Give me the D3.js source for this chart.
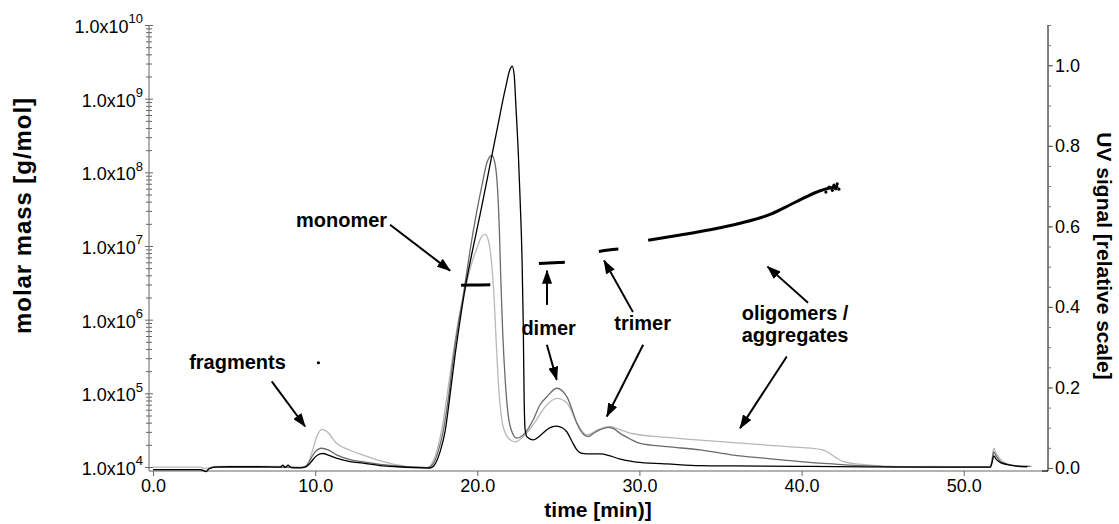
<!DOCTYPE html>
<html>
<head>
<meta charset="utf-8">
<script src="https://cdn.jsdelivr.net/npm/d3@7/dist/d3.min.js"></script>
<style>
  html, body { margin: 0; padding: 0; background: #fff; }
  svg { display: block; font-family: Arial, "Liberation Sans", Helvetica, sans-serif; }
</style>
</head>
<body>
<svg id="chart" width="1119" height="524"></svg>
<script>
// UV traces: [time (min), relative UV signal]
const uvLight = [
  [0,0.002],[2.9,0.002],[3.2,-0.001],[3.52,0.001],[3.82,0.004],[7.83,0.004],[9.07,0.002],
  [9.5,0.007],[9.81,0.04],[10.12,0.08],[10.41,0.096],[10.67,0.092],[11.33,0.061],[12.15,0.044],
  [12.96,0.032],[14.19,0.016],[15.42,0.005],[16.47,0.0],[16.96,0.001],[17.21,0.012],[17.52,0.045],
  [17.83,0.1],[18.14,0.182],[18.45,0.269],[18.82,0.363],[19.25,0.443],[19.68,0.512],[19.99,0.547],
  [20.23,0.572],[20.48,0.58],[20.67,0.567],[20.9,0.501],[21.04,0.418],[21.16,0.318],[21.31,0.206],
  [21.47,0.132],[21.72,0.087],[22.02,0.07],[22.33,0.065],[22.76,0.075],[23.44,0.107],[24.29,0.157],
  [24.9,0.173],[25.52,0.162],[26.14,0.112],[26.75,0.082],[27.45,0.095],[28.19,0.103],[28.81,0.095],
  [29.61,0.085],[31.69,0.076],[33.74,0.069],[35.78,0.063],[37.82,0.057],[39.91,0.051],[41.15,0.046],
  [41.56,0.041],[42.07,0.027],[42.57,0.016],[44.03,0.0075],[46.08,0.003],[48.12,0.004],[51.64,0.0025],
  [51.76,0.025],[51.85,0.049],[52.0,0.037],[52.25,0.022],[52.62,0.011],[53.18,0.006],[54.23,0.004]
];
const uvDark = [
  [0,-0.004],[2.9,-0.004],[3.08,-0.006],[3.27,-0.009],[3.45,-0.002],[3.82,0.002],[7.83,0.002],
  [9.07,0.001],[9.38,0.003],[9.69,0.02],[9.99,0.04],[10.4,0.049],[10.8,0.045],[11.35,0.032],
  [12.15,0.021],[12.96,0.015],[14.0,0.009],[15.05,0.005],[16.16,0.0025],[16.96,0.001],[17.27,0.01],
  [17.58,0.04],[17.89,0.09],[18.2,0.169],[18.51,0.269],[18.82,0.356],[19.19,0.443],[19.56,0.542],
  [19.93,0.629],[20.3,0.704],[20.6,0.759],[20.9,0.776],[21.1,0.754],[21.25,0.692],[21.36,0.592],
  [21.45,0.468],[21.56,0.343],[21.72,0.219],[21.9,0.132],[22.09,0.095],[22.44,0.074],[22.95,0.087],
  [23.44,0.119],[23.87,0.157],[24.29,0.177],[24.9,0.198],[25.52,0.177],[25.85,0.144],[26.14,0.111],
  [26.47,0.087],[26.84,0.078],[27.2,0.087],[27.58,0.095],[28.09,0.101],[28.44,0.097],[28.81,0.086],
  [29.43,0.072],[30.04,0.061],[31.69,0.053],[33.74,0.045],[35.78,0.032],[37.82,0.024],[39.91,0.016],
  [41.95,0.01],[44.03,0.005],[46.08,0.0025],[48.12,0.002],[51.64,0.002],[51.76,0.02],[51.85,0.04],
  [52.0,0.03],[52.25,0.017],[52.62,0.01],[53.18,0.005],[54.1,0.004]
];
const uvBlack = [
  [0,-0.004],[2.9,-0.004],[3.08,-0.006],[3.27,-0.009],[3.45,-0.002],[3.82,0.002],[4.75,0.003],
  [6.42,0.003],[7.83,0.002],[8.02,0.007],[8.14,0.001],[8.33,0.007],[8.51,0.001],[9.07,0.0005],
  [9.38,0.002],[9.69,0.012],[9.99,0.027],[10.3,0.035],[10.49,0.036],[10.8,0.032],[11.35,0.024],
  [12.15,0.016],[12.96,0.012],[14.0,0.006],[15.05,0.003],[16.16,0.001],[17.09,0.0],[17.4,0.01],
  [17.7,0.04],[18.01,0.09],[18.32,0.182],[18.63,0.281],[18.94,0.368],[19.31,0.46],[19.74,0.547],
  [20.17,0.629],[20.79,0.754],[21.22,0.841],[21.72,0.94],[22.02,0.99],[22.15,0.998],[22.27,0.978],
  [22.39,0.891],[22.52,0.791],[22.64,0.667],[22.76,0.517],[22.83,0.368],[22.89,0.169],[22.95,0.095],
  [23.07,0.077],[23.44,0.07],[23.87,0.08],[24.29,0.095],[24.61,0.102],[24.9,0.104],[25.23,0.1],
  [25.52,0.09],[25.85,0.065],[26.14,0.045],[26.4,0.037],[26.75,0.035],[27.14,0.035],[27.58,0.035],
  [28.19,0.03],[28.81,0.022],[29.61,0.016],[30.66,0.012],[31.69,0.01],[33.74,0.006],[35.78,0.005],
  [39.91,0.004],[43.99,0.0025],[48.12,0.002],[51.64,0.002],[51.76,0.015],[51.85,0.03],[52.0,0.022],
  [52.25,0.014],[52.62,0.009],[53.18,0.005],[53.92,0.003]
];

// Molar mass results: [time (min), molar mass (g/mol)]
const massFragments = [[10.2, 2.6e5]];
const massMonomer = [[19.0,2.93e6],[19.6,2.95e6],[20.2,2.96e6],[20.8,2.97e6]];
const massDimer = [[23.8,5.8e6],[24.4,5.9e6],[25.0,5.95e6],[25.4,6.0e6]];
const massTrimer = [[27.5,8.4e6],[28.1,8.8e6],[28.7,9.1e6]];
const massOligomer = [
  [30.54,1.2e7],[32.51,1.41e7],[34.36,1.66e7],[36.21,2.04e7],[38.06,2.69e7],
  [39.3,3.63e7],[40.22,4.57e7],[41.15,5.62e7],[42.26,6.46e7]
];
const massOligomerScatter = [
  [41.5,5.4e7],[41.7,6.3e7],[41.9,5.7e7],[42.0,6.7e7],[42.1,6.0e7],[42.2,7.0e7],[42.3,5.9e7]
];

// Axis ticks
const timeMajor = [0, 10, 20, 30, 40, 50];
const timeMinor = d3.range(0, 56, 2);
const uvMajor = [0, 0.2, 0.4, 0.6, 0.8, 1.0];
const uvMinor = d3.range(0, 1.101, 0.05);
const massExponents = [4, 5, 6, 7, 8, 9, 10];

// Annotation labels and arrows: [time, UV]
const labels = [
  { text: "fragments", t: 5.21, v: 0.245, anchor: "middle" },
  { text: "monomer", t: 14.44, v: 0.598, anchor: "end" },
  { text: "dimer", t: 24.4, v: 0.33, anchor: "middle" },
  { text: "trimer", t: 30.2, v: 0.342, anchor: "middle" },
  { text: "oligomers /", t: 39.6, v: 0.368, anchor: "middle" },
  { text: "aggregates", t: 39.6, v: 0.313, anchor: "middle" }
];
const arrows = [
  { from: [7.32, 0.215], to: [9.38, 0.103] },
  { from: [14.62, 0.604], to: [18.32, 0.49] },
  { from: [24.29, 0.306], to: [24.9, 0.219] },
  { from: [24.3, 0.405], to: [24.3, 0.49] },
  { from: [30.23, 0.306], to: [27.99, 0.128] },
  { from: [29.6, 0.387], to: [27.82, 0.515] },
  { from: [39.09, 0.277], to: [36.21, 0.099] },
  { from: [40.4, 0.41], to: [37.9, 0.5] }
];

const svg = d3.select("#chart");
const plotL = 149, plotR = 1048, plotT = 25, plotB = 471;

const x = d3.scaleLinear().domain([-0.25, 55.2]).range([plotL, plotR]);
const yUV = d3.scaleLinear().domain([-0.0075, 1.1]).range([plotB, plotT]);
const yM = d3.scaleLog().domain([Math.pow(10, 3.9457), 1e10]).range([plotB, plotT]);

const axisGrey = "#666";
const tickFont = "Arial, 'Liberation Sans', sans-serif";

// Bottom axis
const gx = svg.append("g").attr("transform", `translate(0,${plotB})`);
gx.call(d3.axisBottom(x).tickValues(timeMinor).tickSize(4).tickFormat(""));
gx.call(d3.axisBottom(x).tickValues(timeMajor).tickSize(5).tickPadding(3).tickFormat(d3.format(".1f")));
gx.selectAll(".domain").attr("d", `M${plotL},0H${plotR}`).attr("stroke", axisGrey);
gx.selectAll(".tick line").attr("stroke", axisGrey);
gx.selectAll(".tick text").attr("font-size", 18).attr("fill", "#000").attr("font-family", tickFont);

// Left (log) axis
const minorMass = [];
for (let e = 4; e < 10; e++) for (let k = 2; k <= 9; k++) minorMass.push(k * Math.pow(10, e));
const gy = svg.append("g").attr("transform", `translate(${plotL},0)`);
gy.call(d3.axisLeft(yM).tickValues(minorMass).tickSize(3).tickFormat(""));
gy.selectAll(".tick line").attr("x1", 3);
gy.call(g => g.select(".domain").attr("d", `M0,${plotT}V${plotB}`));
const gyMaj = svg.append("g").attr("transform", `translate(${plotL},0)`);
gyMaj.call(d3.axisLeft(yM).tickValues(massExponents.map(e => Math.pow(10, e))).tickSize(4).tickFormat(""));
gyMaj.selectAll(".tick line").attr("x1", 4);
gyMaj.select(".domain").remove();
gy.selectAll("path, line").attr("stroke", axisGrey);
gyMaj.selectAll("line").attr("stroke", axisGrey);
const massLabels = svg.append("g");
massExponents.forEach(e => {
  const t = massLabels.append("text")
    .attr("x", plotL - 6).attr("y", yM(Math.pow(10, e)))
    .attr("dy", "0.45em").attr("text-anchor", "end").attr("font-size", 18);
  t.append("tspan").text("1.0x10");
  t.append("tspan").attr("font-size", 13).attr("dy", "-0.75em").text(e);
});

// Right (UV) axis
const gr = svg.append("g").attr("transform", `translate(${plotR},0)`);
gr.call(d3.axisRight(yUV).tickValues(uvMinor).tickSize(3).tickFormat(""));
gr.selectAll(".tick line").attr("stroke", "#777");
gr.select(".domain").attr("d", `M0,${plotT}V${plotB}H-6`).attr("stroke", "#000");
const grMaj = svg.append("g").attr("transform", `translate(${plotR},0)`);
grMaj.call(d3.axisRight(yUV).tickValues(uvMajor).tickSize(5).tickPadding(2).tickFormat(d3.format(".1f")));
grMaj.select(".domain").remove();
grMaj.selectAll(".tick line").attr("stroke", "#555");
grMaj.selectAll(".tick text").attr("font-size", 18).attr("fill", "#000").attr("font-family", tickFont);

// Axis titles
svg.append("text").attr("transform", "translate(31,216) rotate(-90)")
  .attr("text-anchor", "middle").attr("font-weight", "bold").attr("font-size", 24)
  .attr("textLength", 236).attr("lengthAdjust", "spacing")
  .text("molar mass [g/mol]");
svg.append("text").attr("transform", "translate(1097,256) rotate(90)")
  .attr("text-anchor", "middle").attr("font-weight", "bold").attr("font-size", 21)
  .text("UV signal [relative scale]");
svg.append("text").attr("x", 598).attr("y", 517)
  .attr("text-anchor", "middle").attr("font-weight", "bold").attr("font-size", 21)
  .text("time [min)]");

// UV traces
const uvLine = d3.line().x(d => x(d[0])).y(d => yUV(d[1])).curve(d3.curveMonotoneX);
const traces = svg.append("g").attr("fill", "none").attr("stroke-linejoin", "round");
traces.append("path").datum(uvLight).attr("d", uvLine).attr("stroke", "#b8b8b8").attr("stroke-width", 1.3);
traces.append("path").datum(uvDark).attr("d", uvLine).attr("stroke", "#6a6a6a").attr("stroke-width", 1.3);
traces.append("path").datum(uvBlack).attr("d", uvLine).attr("stroke", "#000").attr("stroke-width", 1.3);

// Molar mass results
const massLine = d3.line().x(d => x(d[0])).y(d => yM(d[1])).curve(d3.curveMonotoneX);
const mm = svg.append("g").attr("fill", "none").attr("stroke", "#000").attr("stroke-width", 3);
[massMonomer, massDimer, massTrimer, massOligomer].forEach(s => mm.append("path").datum(s).attr("d", massLine));
svg.append("g").selectAll("circle").data(massFragments.concat(massOligomerScatter)).join("circle")
  .attr("cx", d => x(d[0])).attr("cy", d => yM(d[1])).attr("r", 1.6).attr("fill", "#000");

// Annotations
const defs = svg.append("defs");
defs.append("marker").attr("id", "head").attr("viewBox", "0 0 14 10")
  .attr("refX", 13).attr("refY", 5).attr("markerWidth", 14).attr("markerHeight", 10)
  .attr("markerUnits", "userSpaceOnUse").attr("orient", "auto")
  .append("path").attr("d", "M0,0L14,5L0,10Z").attr("fill", "#000");
svg.append("g").selectAll("line").data(arrows).join("line")
  .attr("x1", d => x(d.from[0])).attr("y1", d => yUV(d.from[1]))
  .attr("x2", d => x(d.to[0])).attr("y2", d => yUV(d.to[1]))
  .attr("stroke", "#000").attr("stroke-width", 2).attr("marker-end", "url(#head)");
svg.append("g").selectAll("text").data(labels).join("text")
  .attr("x", d => x(d.t)).attr("y", d => yUV(d.v)).attr("text-anchor", d => d.anchor)
  .attr("font-weight", "bold").attr("font-size", 20).text(d => d.text);
</script>
</body>
</html>
